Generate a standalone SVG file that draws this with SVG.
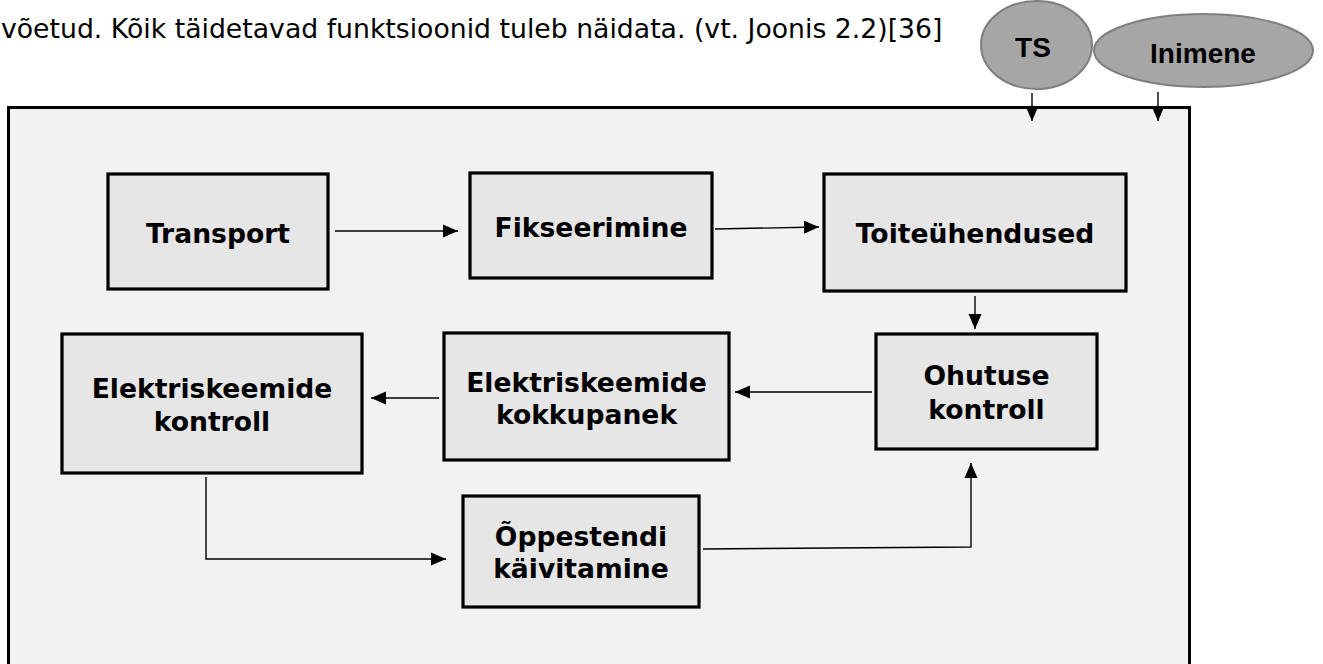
<svg xmlns="http://www.w3.org/2000/svg" width="1323" height="664" viewBox="0 0 1323 664">
  <style>
    .box { fill: #e6e6e6; stroke: #000; stroke-width: 3.2; }
    .lbl { font-family: "DejaVu Sans", Verdana, sans-serif; font-weight: bold; font-size: 26.6px; fill: #000; text-anchor: middle; }
    .ell { fill: #a6a6a6; stroke: #7f7f7f; stroke-width: 2; }
    .elbl { font-family: "Liberation Sans", Arial, sans-serif; font-weight: bold; font-size: 28px; fill: #000; text-anchor: middle; }
    .con { fill: none; stroke: #000; stroke-width: 1.4; marker-end: url(#arr); }
    .body { font-family: "DejaVu Sans", Verdana, sans-serif; font-size: 26.7px; fill: #000; }
  </style>
  <defs>
    <marker id="arr" markerUnits="userSpaceOnUse" markerWidth="16" markerHeight="14" refX="15" refY="7" orient="auto">
      <path d="M0,0.5 L15,7 L0,13.5 z" fill="#000"/>
    </marker>
  </defs>
  <rect width="1323" height="664" fill="#fff"/>
  <text class="body" x="1" y="38">võetud. Kõik täidetavad funktsioonid tuleb näidata. (vt. Joonis 2.2)[36]</text>

  <rect id="frame" x="8.5" y="107.5" width="1181" height="600" fill="#f2f2f2" stroke="#000" stroke-width="3"/>

  <g id="ts">
    <ellipse class="ell" cx="1036.5" cy="45" rx="55.5" ry="44"/>
    <text class="elbl" x="1033" y="57">TS</text>
  </g>
  <g id="inimene">
    <ellipse class="ell" cx="1203.5" cy="50.5" rx="109.5" ry="36.5"/>
    <text class="elbl" x="1203" y="63">Inimene</text>
  </g>

  <g id="transport">
    <rect class="box" x="108" y="174" width="220" height="115"/>
    <text class="lbl" x="218" y="243">Transport</text>
  </g>
  <g id="fikseerimine">
    <rect class="box" x="470" y="173" width="242" height="105"/>
    <text class="lbl" x="591" y="237">Fikseerimine</text>
  </g>
  <g id="toiteuhendused">
    <rect class="box" x="824" y="174" width="302" height="117"/>
    <text class="lbl" x="975" y="243">Toiteühendused</text>
  </g>
  <g id="ohutuse">
    <rect class="box" x="876" y="334" width="221" height="115"/>
    <text class="lbl" x="986.5" y="385">Ohutuse</text>
    <text class="lbl" x="986.5" y="419">kontroll</text>
  </g>
  <g id="kokkupanek">
    <rect class="box" x="444" y="333" width="285" height="127"/>
    <text class="lbl" x="586.5" y="392">Elektriskeemide</text>
    <text class="lbl" x="586.5" y="424">kokkupanek</text>
  </g>
  <g id="kontroll">
    <rect class="box" x="62" y="334" width="300" height="139"/>
    <text class="lbl" x="212" y="398">Elektriskeemide</text>
    <text class="lbl" x="212" y="431">kontroll</text>
  </g>
  <g id="oppestendi">
    <rect class="box" x="463" y="496" width="236" height="111"/>
    <text class="lbl" x="581" y="546">Õppestendi</text>
    <text class="lbl" x="581" y="578">käivitamine</text>
  </g>

  <g id="connectors">
    <path class="con" d="M335,231 H458"/>
    <path class="con" d="M715,229 L819,227"/>
    <path class="con" d="M975,296 V329"/>
    <path class="con" d="M872,392 H735"/>
    <path class="con" d="M439,398 H371"/>
    <path class="con" d="M206,477 V559 H446"/>
    <path class="con" d="M703,549 L971,547 V463"/>
    <path class="con" d="M1032,93 V121"/>
    <path class="con" d="M1158,92 V121"/>
  </g>
</svg>
